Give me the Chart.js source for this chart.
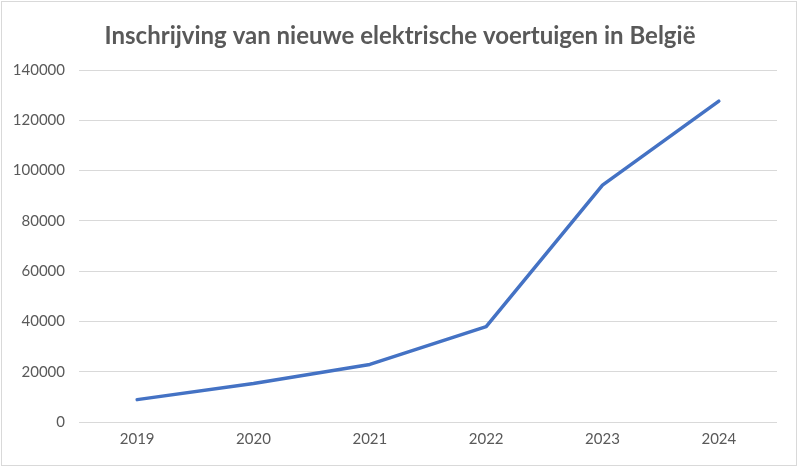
<!DOCTYPE html>
<html lang="nl">
<head>
  <meta charset="UTF-8">
  <title>Inschrijving van nieuwe elektrische voertuigen in België</title>
  <script src="https://cdn.jsdelivr.net/npm/chart.js"></script>
  <style>
    html, body {
      margin: 0;
      padding: 0;
      background: #fff;
    }
    .frame {
      position: absolute;
      left: 1px;
      top: 1px;
      width: 794px;
      height: 463px;
      border: 1px solid #d9d9d9;
    }
    .chart-box {
      position: absolute;
      left: 0;
      top: 0;
      width: 800px;
      height: 469px;
    }
  </style>
</head>
<body>
  <div class="frame"></div>
  <div class="chart-box">
    <canvas id="lineChart"></canvas>
  </div>

  <script>
    // Data
    const years = ["2019", "2020", "2021", "2022", "2023", "2024"];
    const registrations = [8900, 15300, 22900, 37900, 94200, 127600];
    const yTicks = [0, 20000, 40000, 60000, 80000, 100000, 120000, 140000];
    const chartTitle = "Inschrijving van nieuwe elektrische voertuigen in België";

    const textGray = "#595959";
    const gridGray = "#d9d9d9";

    // Title centred on the whole picture, not on the padded box
    const centerTitle = {
      id: "centerTitle",
      afterDraw(chart) {
        const ctx = chart.ctx;
        ctx.save();
        ctx.font = "bold 24px Lato";
        ctx.fillStyle = textGray;
        ctx.textAlign = "center";
        ctx.textBaseline = "middle";
        ctx.fillText(chartTitle, chart.width / 2, 36);
        ctx.restore();
      }
    };

    const lineChart = new Chart(document.getElementById("lineChart"), {
      type: "line",
      data: {
        labels: years,
        datasets: [{
          label: "Inschrijvingen",
          data: registrations,
          borderColor: "#4472c4",
          backgroundColor: "#4472c4",
          borderWidth: 3.5,
          borderCapStyle: "round",
          borderJoinStyle: "round",
          pointRadius: 0,
          tension: 0
        }]
      },
      options: {
        responsive: true,
        maintainAspectRatio: false,
        animation: false,
        layout: {
          padding: { left: 0, right: 23, top: 70, bottom: 0 }
        },
        plugins: {
          legend: { display: false },
          tooltip: { enabled: false },
          title: { display: false }
        },
        scales: {
          x: {
            offset: true,
            grid: { display: false, drawTicks: false },
            border: { display: false },
            ticks: {
              color: textGray,
              font: { family: "Lato", size: 15 },
              padding: 8
            },
            afterFit(scale) {
              scale.height = 47;
            }
          },
          y: {
            min: 0,
            max: 140000,
            afterBuildTicks(scale) {
              scale.ticks = yTicks.map(v => ({ value: v }));
            },
            grid: { color: gridGray, lineWidth: 1, drawTicks: false },
            border: { display: false },
            ticks: {
              color: textGray,
              font: { family: "Lato", size: 15 },
              padding: 14,
              callback: v => String(v)
            },
            afterFit(scale) {
              scale.width = 79;
            }
          }
        }
      },
      plugins: [centerTitle]
    });
  </script>
</body>
</html>
